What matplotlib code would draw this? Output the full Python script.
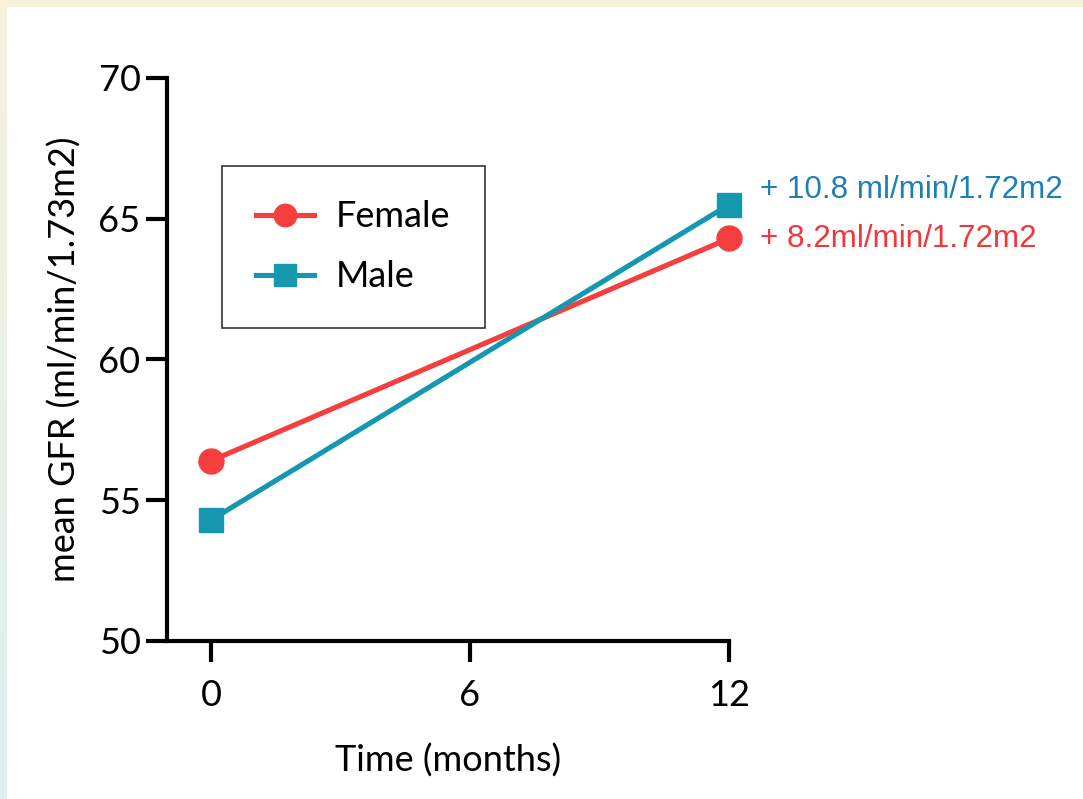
import matplotlib
matplotlib.use("Agg")
import matplotlib.pyplot as plt
import numpy as np
from matplotlib.patches import Rectangle
from matplotlib.colors import LinearSegmentedColormap

# Data
months = [0, 12]
female = [56.4, 64.3]
male = [54.3, 65.5]
series_labels = ["Female", "Male"]
annot_male = "+ 10.8 ml/min/1.72m2"
annot_female = "+ 8.2ml/min/1.72m2"
xticks = [0, 6, 12]
yticks = [50, 55, 60, 65, 70]

RED = "#F53F3F"
TEAL = "#1597AF"
RED_TXT = "#F2373A"
BLUE_TXT = "#1E7FB5"

W, H = 1083, 799
fig = plt.figure(figsize=(W / 100, H / 100), dpi=100)
fig.patch.set_facecolor("white")

# background border strips
fig.patches.append(Rectangle((0, 1 - 7 / H), 1, 7 / H, transform=fig.transFigure,
                             facecolor="#F7F1DA", edgecolor="none", zorder=0))
bg = fig.add_axes([0, 0, 7 / W, 1 - 7 / H], zorder=0)
grad = np.linspace(0, 1, 256).reshape(-1, 1)
cm = LinearSegmentedColormap.from_list("g", ["#DDEFF0", "#F5F1DC"])
bg.imshow(grad, aspect="auto", cmap=cm, origin="lower", extent=[0, 1, 0, 1])
bg.axis("off")

font = "Lato"
FS = 26
ax = fig.add_axes([167 / W, (H - 641) / H, (729 - 167) / W, 563 / H])
ax.set_facecolor("none")

ax.plot(months, female, color=RED, lw=3.7, marker="o", ms=18, label=series_labels[0],
        clip_on=False, zorder=3)
ax.plot(months, male, color=TEAL, lw=3.7, marker="s", ms=17, label=series_labels[1],
        clip_on=False, zorder=3)

ax.set_xlim(-1.02, 12)
ax.set_ylim(50, 70)
ax.set_xticks(xticks)
ax.set_yticks(yticks)
for s in ["top", "right"]:
    ax.spines[s].set_visible(False)
for s in ["left", "bottom"]:
    ax.spines[s].set_linewidth(3)
ax.tick_params(axis="both", width=3, length=15, direction="out", labelsize=FS, pad=4)
ax.tick_params(axis="x", pad=12)
for lab in ax.get_xticklabels() + ax.get_yticklabels():
    lab.set_fontfamily(font)

ax.set_xlabel("Time (months)", fontsize=FS, fontfamily=font, labelpad=23)
ax.set_ylabel("mean GFR (ml/min/1.73m2)", fontsize=FS, fontfamily=font, labelpad=12)

leg = ax.legend(loc="upper left", bbox_to_anchor=((222 - 167) / (729 - 167), (641 - 166) / 563),
                frameon=True, fancybox=False, edgecolor="black",
                prop={"family": font, "size": FS}, borderpad=0.95, labelspacing=0.75,
                handlelength=1.6, handletextpad=0.6, borderaxespad=0, markerscale=0.9)
leg.get_frame().set_linewidth(1.2)

ax.annotate(annot_male, xy=(months[1], male[1]), xytext=(31, 15), textcoords="offset pixels",
            color=BLUE_TXT, fontsize=22.6, fontfamily="Liberation Sans", va="center", ha="left",
            annotation_clip=False)
ax.annotate(annot_female, xy=(months[1], female[1]), xytext=(31, -1), textcoords="offset pixels",
            color=RED_TXT, fontsize=22.6, fontfamily="Liberation Sans", va="center", ha="left",
            annotation_clip=False)

fig.savefig("out.png", dpi=100)
